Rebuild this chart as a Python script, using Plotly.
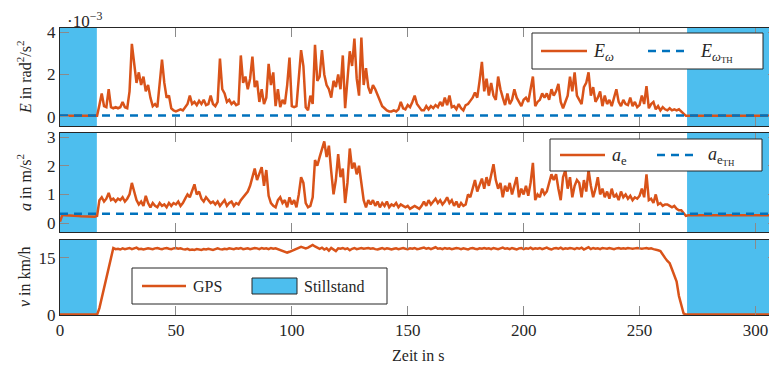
import plotly.graph_objects as go

# ---------------- data ----------------
time_s = list(range(0, 311))

# E_omega in 1e-3 rad^2/s^2 (1 s steps)
E_omega = [
    0.04, 0.04, 0.04, 0.04, 0.04, 0.04, 0.04, 0.04, 0.04, 0.04,
    0.04, 0.04, 0.04, 0.04, 0.04, 0.04,
    0.05, 0.55, 1.1, 0.5, 0.45, 1.3, 0.45, 0.4, 0.45, 0.4,
    0.45, 0.7, 0.45, 0.4, 1.2, 3.45, 2.4, 1.6, 2.1, 1.5,
    1.9, 1.2, 1.5, 0.9, 0.5, 0.6, 0.45, 1.5, 2.7, 1.6,
    0.9, 1.0, 0.4, 0.3, 0.25, 0.3, 0.35, 0.3, 0.45, 0.6,
    1.0, 0.6, 0.7, 0.55, 0.75, 0.6, 0.8, 0.55, 0.6, 1.0,
    0.6, 0.5, 0.7, 2.75, 1.3, 1.1, 0.7, 0.8, 0.6, 0.7,
    0.55, 0.6, 2.9, 1.6, 1.9, 1.3, 1.8, 2.85, 1.4, 1.7,
    0.7, 1.3, 0.6, 0.9, 2.5, 1.5, 2.1, 0.5, 1.3, 0.45,
    0.8, 0.6, 1.5, 2.8, 0.5, 0.45, 0.5, 2.0, 3.15, 2.4,
    0.45, 0.3, 1.0, 0.6, 3.4, 1.7, 1.9, 3.15, 2.0, 1.5,
    1.3, 0.9, 1.7, 1.4, 2.0, 1.3, 2.9, 0.4, 1.6, 3.1,
    2.4, 3.7, 1.8, 1.0, 3.75, 1.5, 2.3, 1.4, 1.1, 1.5,
    1.3, 1.0, 0.7, 0.5, 0.4, 0.3, 0.25, 0.25, 0.3, 0.25,
    0.35, 0.7, 0.4, 0.35, 0.55, 0.45, 0.7, 1.0, 0.6, 0.45,
    0.3, 0.3, 0.5, 0.35, 0.5, 0.4, 0.55, 0.45, 0.7, 0.5,
    0.9, 0.55, 1.0, 0.45, 0.5, 0.35, 0.6, 0.4, 0.3, 0.55,
    0.6, 0.75, 0.9, 1.15, 0.9, 1.7, 2.6, 1.2, 1.8, 1.0,
    1.6, 1.0, 0.8, 1.9, 1.3, 0.9, 0.55, 1.1, 0.6, 0.8,
    1.3, 0.9, 0.7, 0.5, 0.8, 0.9, 0.7, 1.4, 1.9, 0.5,
    0.7, 0.8, 1.1, 0.9, 1.1, 0.8, 1.3, 1.0, 1.2, 1.55,
    0.7, 0.4, 0.7, 1.0, 1.9, 1.2, 2.1, 1.0, 0.8, 0.6,
    1.4, 1.6, 2.1, 1.0, 1.4, 0.7, 0.9, 1.2, 0.5, 1.0,
    0.6, 0.8, 0.5, 0.9, 1.3, 0.7, 0.5, 0.8, 0.6, 0.55,
    0.9, 0.5, 0.7, 0.45, 0.55, 1.0, 0.6, 1.45, 0.4, 0.6,
    0.7, 0.35, 0.5, 0.3, 0.45, 0.35, 0.3, 0.4, 0.3, 0.35,
    0.3, 0.35, 0.25, 0.15, 0.04,
    0.04, 0.04, 0.04, 0.04, 0.04, 0.04, 0.04, 0.04, 0.04, 0.04,
    0.04, 0.04, 0.04, 0.04, 0.04, 0.04, 0.04, 0.04, 0.04, 0.04,
    0.04, 0.04, 0.04, 0.04, 0.04, 0.04, 0.04, 0.04, 0.04, 0.04,
    0.04, 0.04, 0.04, 0.04, 0.04, 0.04, 0.04, 0.04, 0.04, 0.04,
]
E_threshold = 0.06

# a_e in m/s^2 (1 s steps)
a_e = [
    0.05, 0.28, 0.27, 0.27, 0.26, 0.26, 0.25, 0.25, 0.25, 0.24,
    0.24, 0.24, 0.23, 0.23, 0.23, 0.22, 0.25,
    0.8, 0.9, 0.75, 0.85, 1.05, 0.8, 0.85, 0.75, 0.85, 0.8,
    0.9, 0.75, 0.85, 1.0, 1.4, 1.1, 0.8, 0.65, 0.75, 0.6,
    0.95, 0.7, 0.55, 0.7, 0.6, 0.55, 0.7, 0.6, 0.65, 0.55,
    0.7, 0.6, 0.7, 0.65, 0.75, 0.6, 0.7, 0.85, 1.0, 0.9,
    1.15, 1.35, 1.0, 1.1, 0.85, 0.75, 0.9, 0.8, 0.7, 0.75,
    0.65, 0.75, 0.6, 0.7, 0.8, 0.6, 0.7, 0.75, 0.6, 0.7,
    0.65, 0.8, 0.9, 1.0, 1.1, 1.3, 1.6, 1.9, 1.5, 1.7,
    1.95, 1.3, 1.85, 0.95, 0.7, 0.6, 0.55, 0.8, 0.9, 0.7,
    0.8, 0.55, 0.9, 0.65, 0.8, 0.55, 1.0, 1.6, 1.4, 0.7,
    0.55, 0.6, 0.9, 2.2, 2.0, 2.3, 2.6, 2.85, 2.3, 2.7,
    1.8, 1.0, 1.5, 2.4, 1.6, 1.9, 0.7, 1.4, 2.6, 1.9,
    2.1, 1.7, 2.0, 1.4, 0.8, 0.55, 0.8, 0.65, 0.8, 0.6,
    0.75, 0.55, 0.7, 0.6, 0.75, 0.55, 0.65, 0.6, 0.7, 0.55,
    0.65, 0.6, 0.55, 0.6, 0.5, 0.55, 0.6, 0.55, 0.5, 0.6,
    0.75, 0.6, 0.8, 0.65, 0.75, 0.85, 0.7, 0.8, 0.65, 0.75,
    0.9, 0.7, 0.8, 0.6, 0.75, 0.55, 0.7, 0.6, 0.65, 1.0,
    0.9, 1.2, 1.5, 1.1, 1.3, 1.55, 1.2, 1.6, 1.3, 1.7,
    2.05, 1.5, 1.2, 1.4, 0.9, 1.3, 1.1, 1.4, 1.0, 1.3,
    1.6, 0.9, 1.2, 1.0, 1.3, 0.95, 1.4, 2.1, 0.8, 1.0,
    0.9, 1.2, 1.0, 1.1, 1.4, 1.7, 1.5, 1.7, 1.2, 0.8,
    1.6, 1.85, 1.2, 1.6, 0.9, 1.3, 1.5, 1.4, 0.9, 1.5,
    1.1, 1.85, 1.3, 0.9, 1.2, 1.6, 1.0, 1.2, 0.9, 1.1,
    0.85, 1.2, 0.9, 1.0, 0.8, 1.1, 0.9, 1.0, 0.85, 0.95,
    0.8, 0.9, 0.85, 0.95, 1.2, 0.9, 1.7, 0.8, 0.85, 0.7,
    1.0, 0.65, 0.7, 0.6, 0.65, 0.65, 0.6, 0.55, 0.6, 0.5,
    0.45, 0.45, 0.35, 0.25,
    0.27, 0.27, 0.27, 0.27, 0.27, 0.27, 0.27, 0.27, 0.27, 0.27,
    0.27, 0.27, 0.27, 0.27, 0.27, 0.27, 0.27, 0.27, 0.27, 0.27,
    0.27, 0.27, 0.27, 0.27, 0.27, 0.27, 0.27, 0.27, 0.27, 0.27,
    0.27, 0.27, 0.27, 0.27, 0.27, 0.27, 0.27, 0.27, 0.27, 0.27,
]
a_threshold = 0.33

# GPS velocity in km/h (1 s steps)
v_gps = [
    0.1, 0.1, 0.1, 0.1, 0.1, 0.1, 0.1, 0.1, 0.1, 0.1,
    0.1, 0.1, 0.1, 0.1, 0.1, 0.1, 0.1,
    1.8, 4.5, 7.2, 10.0, 12.7, 15.4,
    17.6, 17.3, 17.4, 17.2, 17.5, 17.3, 17.4, 17.6, 17.3, 17.5,
    17.7, 17.3, 17.4, 17.2, 17.3, 17.5, 17.4, 17.3, 17.5, 17.6,
    17.4, 17.3, 17.5, 17.6, 17.4, 17.3, 17.5, 17.6, 17.4, 17.5,
    17.3, 17.2, 17.4, 17.1, 17.2, 17.1, 17.3, 17.2, 17.1, 17.3,
    17.2, 17.4, 17.2, 17.1, 17.3, 17.5, 17.3, 17.2, 17.4, 17.3,
    17.5, 17.4, 17.3, 17.5, 17.4, 17.6, 17.3, 17.4, 17.5, 17.3,
    17.4, 17.6, 17.5, 17.3, 17.6, 17.4, 17.5, 17.3, 17.6, 17.4,
    17.5, 17.3, 17.2, 17.0, 16.7, 16.4, 16.6, 16.9, 17.1, 17.4,
    17.6, 17.9, 17.7, 17.5, 17.7, 18.0, 18.4, 18.0, 17.6, 17.4,
    17.7, 17.2, 17.5, 16.9, 17.6, 17.3, 16.8, 17.5, 17.4, 17.6,
    17.3, 17.5, 17.0, 17.4, 17.6, 17.3, 17.5, 17.6, 17.4, 17.5,
    17.6, 17.4, 17.5, 17.3, 17.2, 17.4, 17.6, 17.3, 17.5, 17.4,
    17.2, 17.4, 17.5, 17.3, 17.4, 17.6, 17.4, 17.3, 17.5, 17.4,
    17.6, 17.3, 17.4, 17.5, 17.7, 17.4, 17.6, 17.3, 17.5, 17.8,
    17.4, 17.5, 17.3, 17.6, 17.4, 17.5, 17.3, 17.4, 17.6, 17.5,
    17.3, 17.5, 17.4, 17.2, 17.5, 17.6, 17.4, 17.3, 17.5, 17.4,
    17.6, 17.4, 17.5, 17.3, 17.6, 17.4, 17.3, 17.5, 17.7, 17.4,
    17.5, 17.3, 17.6, 17.4, 17.2, 17.5, 17.6, 17.3, 17.5, 17.4,
    17.7, 17.3, 17.5, 17.4, 17.6, 17.3, 17.5, 17.7, 17.4, 17.2,
    17.5, 17.6, 17.4, 17.7, 17.3, 17.5, 17.4, 17.6, 17.5, 17.3,
    17.6, 17.4, 17.7, 17.2, 17.5, 17.8, 17.3, 17.6, 17.4, 17.5,
    17.3, 17.6, 17.5, 17.4, 17.6, 17.5, 17.3, 17.5, 17.6, 17.4,
    17.5, 17.4, 17.6, 17.5, 17.4, 17.5, 17.6, 17.5, 17.4, 17.5,
    17.6, 17.4, 17.5, 17.3, 17.2, 17.0,
    16.8, 15.8, 15.0, 14.2, 13.6, 12.0, 10.2, 8.8, 5.0, 2.5, 0.4, 0.1,
    0.1, 0.1, 0.1, 0.1, 0.1, 0.1, 0.1, 0.1, 0.1, 0.1,
    0.1, 0.1, 0.1, 0.1, 0.1, 0.1, 0.1, 0.1, 0.1, 0.1,
    0.1, 0.1, 0.1, 0.1, 0.1, 0.1, 0.1, 0.1, 0.1, 0.1,
    0.1, 0.1, 0.1, 0.1, 0.1, 0.1, 0.1, 0.1, 0.1, 0.1,
]

# standstill intervals (s)
still_start = [0, 270.5]
still_end = [15.9, 312]

x_ticks = [0, 50, 100, 150, 200, 250, 300]
x_range = [0, 309.3]

# ---------------- styling ----------------
ORANGE = "#D95319"
BLUE = "#0072BD"
SHADE = "#4DBEEE"
TXT = "#262626"
FONT = "Liberation Serif"

OFF = 8                       # default page margin of the html body
WIN_W, WIN_H = 777, 367
W, H = WIN_W - OFF, WIN_H - OFF
L = 60 - OFF
T = 28 - OFF
B = WIN_H - 315
R = 0
PW, PH = W - L - R, H - T - B


def px(x):
    """window pixel x -> paper coordinate"""
    return (x - OFF - L) / PW


def py(y):
    """window pixel y -> paper coordinate"""
    return (H - B - (y - OFF)) / PH


fig = go.Figure()

fig.add_trace(go.Scatter(x=time_s, y=E_omega, mode="lines", line=dict(color=ORANGE, width=2.5),
                         xaxis="x", yaxis="y", showlegend=False))
fig.add_trace(go.Scatter(x=[x_range[0], x_range[1] + 5], y=[E_threshold, E_threshold], mode="lines",
                         line=dict(color=BLUE, width=2.5, dash="8px,6px"),
                         xaxis="x", yaxis="y", showlegend=False))
fig.add_trace(go.Scatter(x=time_s, y=a_e, mode="lines", line=dict(color=ORANGE, width=2.5),
                         xaxis="x2", yaxis="y2", showlegend=False))
fig.add_trace(go.Scatter(x=[x_range[0], x_range[1] + 5], y=[a_threshold, a_threshold], mode="lines",
                         line=dict(color=BLUE, width=2.5, dash="8px,6px"),
                         xaxis="x2", yaxis="y2", showlegend=False))
fig.add_trace(go.Scatter(x=time_s, y=v_gps, mode="lines", line=dict(color=ORANGE, width=2.5),
                         xaxis="x3", yaxis="y3", showlegend=False))

shapes = []
for xa, ya in (("x", "y"), ("x2", "y2"), ("x3", "y3")):
    for s0, s1 in zip(still_start, still_end):
        shapes.append(dict(type="rect", xref=xa, yref=ya + " domain", x0=s0, x1=s1, y0=0, y1=1,
                           fillcolor=SHADE, line=dict(width=0), layer="below"))

annotations = []


def legend_box(x0, x1, y0, y1):
    shapes.append(dict(type="rect", xref="paper", yref="paper", x0=px(x0), x1=px(x1),
                       y0=py(y1), y1=py(y0), fillcolor="white",
                       line=dict(color=TXT, width=1), layer="above"))


def legend_line(x0, x1, y, color, dash=None, width=2.5):
    ln = dict(color=color, width=width)
    if dash:
        ln["dash"] = dash
    shapes.append(dict(type="line", xref="paper", yref="paper", x0=px(x0), x1=px(x1),
                       y0=py(y), y1=py(y), line=ln, layer="above"))


def text(x, y, s, size=16, xanchor="left", angle=0):
    annotations.append(dict(xref="paper", yref="paper", x=px(x), y=py(y), text=s, showarrow=False,
                            xanchor=xanchor, yanchor="middle", textangle=angle,
                            font=dict(family=FONT, size=size, color=TXT)))


# legend 1
legend_box(532, 763, 33, 69)
legend_line(541, 587, 51, ORANGE)
text(591, 53, "<i>E</i><sub><i>ω</i></sub>", 18)
legend_line(648, 690, 51, BLUE, "8px,6px", 2.5)
text(698, 53, "<i>E</i><sub><i>ω</i><sub>TH</sub></sub>", 18)

# legend 2
legend_box(550, 762, 139, 171)
legend_line(560, 605, 155, ORANGE)
text(610, 156, "<i>a</i><sub>e</sub>", 18)
legend_line(657, 697, 155, BLUE, "8px,6px", 2.5)
text(706, 156, "<i>a</i><sub>e<sub>TH</sub></sub>", 18)

# legend 3
legend_box(132, 387, 268, 304)
legend_line(142, 186, 286, ORANGE)
text(191, 286, "GPS", 16)
shapes.append(dict(type="rect", xref="paper", yref="paper", x0=px(252), x1=px(297),
                   y0=py(294), y1=py(278), fillcolor=SHADE, line=dict(color=TXT, width=1),
                   layer="above"))
text(302, 286, "Stillstand", 16)

# axis titles
text(24, 77, "<i>E</i> in rad<sup>2</sup>/s<sup>2</sup>", 16, "center", -90)
text(24, 183, "<i>a</i> in m/s<sup>2</sup>", 16, "center", -90)
text(24, 277, "<i>v</i> in km/h", 16, "center", -90)
text(418, 355, "Zeit in s", 16, "center")
text(65, 20, "·10<sup>−3</sup>", 17)

axis_common = dict(showgrid=False, zeroline=False, showline=True, linecolor=TXT, linewidth=1,
                   mirror="allticks", ticks="inside", ticklen=9, tickcolor="#8a8a8a", tickwidth=1,
                   tickfont=dict(family=FONT, size=17, color=TXT))

fig.update_layout(
    width=W, height=H,
    margin=dict(l=L, r=R, t=T, b=B, pad=0),
    paper_bgcolor="white", plot_bgcolor="white",
    showlegend=False,
    shapes=shapes, annotations=annotations,
    xaxis=dict(domain=[0, 1], anchor="y", range=x_range, tickvals=x_ticks, showticklabels=False, **axis_common),
    xaxis2=dict(domain=[0, 1], anchor="y2", range=x_range, tickvals=x_ticks, showticklabels=False, **axis_common),
    xaxis3=dict(domain=[0, 1], anchor="y3", range=x_range, tickvals=x_ticks, **axis_common),
    yaxis=dict(domain=[py(126), py(28)], anchor="x", range=[-0.44, 4.2], tickvals=[0, 2, 4], **axis_common),
    yaxis2=dict(domain=[py(232), py(133)], anchor="x2", range=[-0.31, 3.14], tickvals=[0, 1, 2, 3], **axis_common),
    yaxis3=dict(domain=[py(315), py(240)], anchor="x3", range=[0, 19.7], tickvals=[0, 15], **axis_common),
)

fig.write_html("out.html")
